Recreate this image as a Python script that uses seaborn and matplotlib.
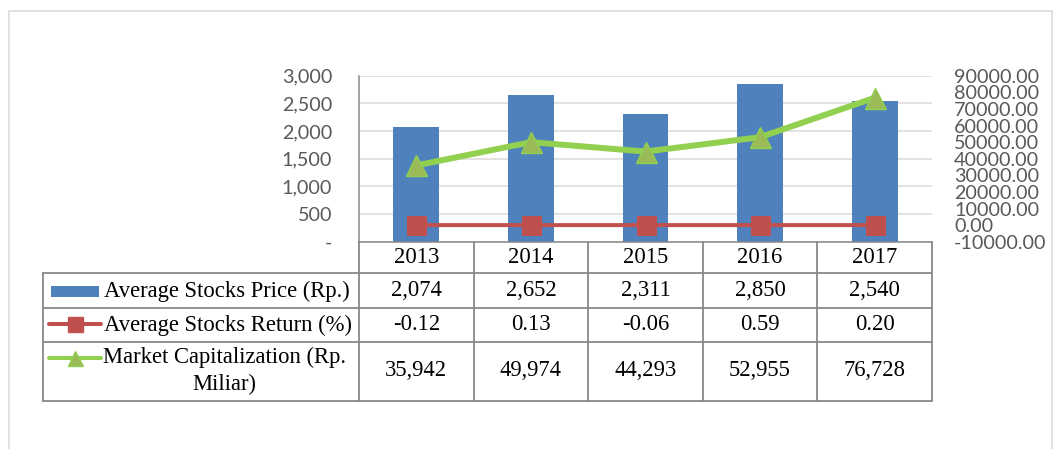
import numpy as np
import pandas as pd
import matplotlib
matplotlib.use("Agg")
import matplotlib.pyplot as plt
import matplotlib.transforms as mtransforms
from matplotlib.lines import Line2D
from matplotlib.patches import Rectangle
import seaborn as sns

# ---------------- data ----------------
years = ["2013", "2014", "2015", "2016", "2017"]
avg_price = [2074, 2652, 2311, 2850, 2540]
avg_return = [-0.12, 0.13, -0.06, 0.59, 0.20]
market_cap = [35942, 49974, 44293, 52955, 76728]
price_labels = ["2,074", "2,652", "2,311", "2,850", "2,540"]
return_labels = ["-0.12", "0.13", "-0.06", "0.59", "0.20"]
mcap_labels = ["35,942", "49,974", "44,293", "52,955", "76,728"]
series_names = ["Average Stocks Price (Rp.)",
                "Average Stocks Return (%)",
                "Market Capitalization (Rp.\nMiliar)"]
left_ticks = [0, 500, 1000, 1500, 2000, 2500, 3000]
right_ticks = [-10000, 0, 10000, 20000, 30000, 40000, 50000, 60000, 70000, 80000, 90000]

# ---------------- style ----------------
sns.set_style("white")
AX_FONT = "Lato"
TB_FONT = "Liberation Serif"
BLUE = "#4F81BD"
RED = "#C0504D"
GREEN_LINE = "#92D050"
GREEN_MK = "#9BBB59"
GRID = "#D9D9D9"
AXC = "#868686"
TBL = "#878787"
TXT = "#595959"

W, H = 1053, 449
fig = plt.figure(figsize=(W / 100, H / 100), dpi=100)
PX = 0.72  # points per pixel


def fx(px):
    return px / W


def fy(py):
    return 1 - py / H


ax_l, ax_r, ax_t, ax_b = 359, 932, 75.7, 241.7
ax = fig.add_axes([fx(ax_l), fy(ax_b), (ax_r - ax_l) / W, (ax_b - ax_t) / H])

df = pd.DataFrame({"Year": years, "Price": avg_price})
sns.barplot(data=df, x="Year", y="Price", ax=ax, color=BLUE, width=0.4,
            saturation=1, edgecolor="none", zorder=2)

AS = 14.2
ax.set_ylim(0, 3000)
ax.set_yticks(left_ticks)
ax.set_yticklabels(["-" if v == 0 else f"{v:,}" for v in left_ticks],
                   fontfamily=AX_FONT, fontsize=AS, color=TXT)
ax.set_xticks([])
ax.set_xlabel("")
ax.set_ylabel("")
ax.yaxis.grid(True, color=GRID, lw=1.5 * PX)
ax.set_axisbelow(True)
for s in ["top", "right"]:
    ax.spines[s].set_visible(False)
for s in ["left", "bottom"]:
    ax.spines[s].set_color(AXC)
    ax.spines[s].set_linewidth(1.5 * PX)
ax.tick_params(axis="y", length=0, pad=27 * PX)

ax2 = ax.twinx()
sns.lineplot(x=years, y=avg_return, ax=ax2, color=RED, lw=4 * PX, marker="s",
             markersize=19 * PX, markerfacecolor=RED, markeredgecolor=RED, sort=False)
sns.lineplot(x=years, y=market_cap, ax=ax2, color=GREEN_LINE, lw=6 * PX, marker="^",
             markersize=21 * PX, markerfacecolor=GREEN_MK, markeredgecolor=GREEN_LINE,
             markeredgewidth=1.0, sort=False)
ax2.set_ylim(-10000, 90000)
ax2.set_yticks(right_ticks)
ax2.set_yticklabels([f"{v:.2f}" for v in right_ticks],
                    fontfamily=AX_FONT, fontsize=AS, color=TXT)
ax2.set_ylabel("")
ax2.set_xlabel("")
for s in ax2.spines.values():
    s.set_visible(False)
ax2.tick_params(axis="y", length=0, pad=22 * PX)
ax.set_xlim(-0.5, 4.5)
ax2.set_xlim(-0.5, 4.5)
ax.set_xticks([])

# ---------------- outer frame ----------------
for xs, ys in [((9, 1052), (11, 11)), ((9, 9), (11, 449)), ((1052, 1052), (11, 449))]:
    fig.add_artist(Line2D([fx(x) for x in xs], [fy(y) for y in ys], color=GRID, lw=1.5 * PX))

# ---------------- data table ----------------
trans = mtransforms.blended_transform_factory(ax.transData, fig.transFigure)
row_lines = [273, 308, 342, 401]
for py in row_lines:
    fig.add_artist(Line2D([fx(43), fx(ax_r)], [fy(py), fy(py)], color=TBL, lw=1.8 * PX))
fig.add_artist(Line2D([fx(43), fx(43)], [fy(273), fy(401)], color=TBL, lw=1.8 * PX))
for i in range(len(years) + 1):
    xb = i - 0.5
    fig.add_artist(Line2D([xb, xb], [fy(ax_b), fy(401)], color=TBL, lw=1.8 * PX,
                          transform=trans))

TS = 16.3
for i, y in enumerate(years):
    fig.text(i, fy(257.5), y, transform=trans, ha="center", va="center",
             fontfamily=TB_FONT, fontsize=TS, color="black")
for labels, py in [(price_labels, 291), (return_labels, 325), (mcap_labels, 371)]:
    for i, lab in enumerate(labels):
        fig.text(i, fy(py), lab, transform=trans, ha="center", va="center",
                 fontfamily=TB_FONT, fontsize=TS, color="black")

fig.text(fx(104), fy(291), series_names[0], ha="left", va="center",
         fontfamily=TB_FONT, fontsize=TS, color="black")
fig.text(fx(104), fy(325), series_names[1], ha="left", va="center",
         fontfamily=TB_FONT, fontsize=TS, color="black")
fig.text(fx(224.5), fy(371), series_names[2], ha="center", va="center",
         multialignment="center", linespacing=1.32,
         fontfamily=TB_FONT, fontsize=TS, color="black")

# legend keys
fig.add_artist(Rectangle((fx(51), fy(296.7)), fx(99) - fx(51), (296.7 - 285.7) / H,
                         facecolor=BLUE, edgecolor="none"))
fig.add_artist(Line2D([fx(49), fx(101)], [fy(324), fy(324)], color=RED, lw=4 * PX))
fig.add_artist(Line2D([fx(75)], [fy(324)], color=RED, marker="s", markersize=15 * PX,
                      markerfacecolor=RED, markeredgecolor=RED))
fig.add_artist(Line2D([fx(49), fx(101)], [fy(357.7), fy(357.7)], color=GREEN_LINE, lw=4 * PX))
fig.add_artist(Line2D([fx(75)], [fy(357.7)], color=GREEN_LINE, marker="^", markersize=15 * PX,
                      markerfacecolor=GREEN_MK, markeredgecolor=GREEN_LINE))

fig.savefig("out.png", dpi=100)
